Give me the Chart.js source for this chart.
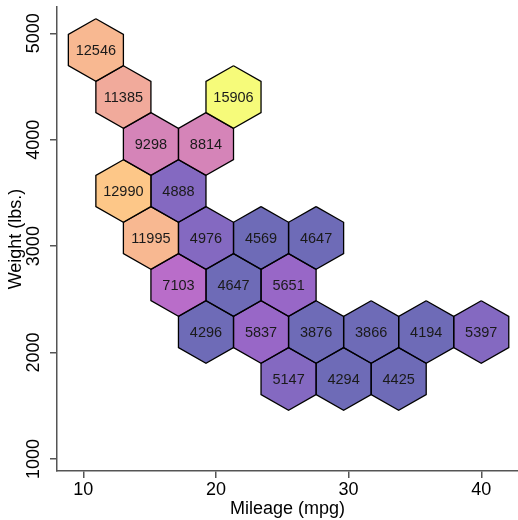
<!DOCTYPE html>
<html>
<head>
<meta charset="utf-8">
<script src="https://cdn.jsdelivr.net/npm/chart.js@4/dist/chart.umd.min.js"></script>
<style>
  html, body { margin: 0; padding: 0; background: #fff; }
  #wrap { width: 518px; height: 520px; }
</style>
</head>
<body>
<div id="wrap"><canvas id="chart" width="518" height="520"></canvas></div>
<script>
// hexbin cells: centre mileage, centre weight, value shown in the cell
const hexMpg = [10.95, 13.025, 21.325, 15.1, 19.25, 13.025, 17.175, 15.1, 19.25, 23.4, 27.55,
  17.175, 21.325, 25.475, 19.25, 23.4, 27.55, 31.7, 35.85, 40.0, 25.475, 29.625, 33.775];
const hexWeight = [4843, 4401, 4401, 3960, 3960, 3518, 3518, 3077, 3077, 3077, 3077,
  2635, 2635, 2635, 2193, 2193, 2193, 2193, 2193, 2193, 1752, 1752, 1752];
const hexValue = [12546, 11385, 15906, 9298, 8814, 12990, 4888, 11995, 4976, 4569, 4647,
  7103, 4647, 5651, 4296, 5837, 3876, 3866, 4194, 5397, 5147, 4294, 4425];

const xTicks = [10, 20, 30, 40];
const yTicks = [1000, 2000, 3000, 4000, 5000];

// bin size (data units)
const halfW = 2.075;
const radius = 294;

const FONT = "'Liberation Sans', Arial, Helvetica, sans-serif";

// plasma colour map, split into 15 discrete steps
const plasma = ['#0d0887', '#41049d', '#6a00a8', '#8f0da4', '#b12a90', '#cc4778',
  '#e16462', '#f2844b', '#fca636', '#fcce25', '#f0f921'];
const nColors = 15;

function hexToRgb(h) {
  return [parseInt(h.slice(1, 3), 16), parseInt(h.slice(3, 5), 16), parseInt(h.slice(5, 7), 16)];
}

function plasmaColor(t, alpha) {
  t = Math.max(0, Math.min(1, t));
  let pos = t * (plasma.length - 1);
  let i = Math.min(Math.floor(pos), plasma.length - 2);
  let f = pos - i;
  let a = hexToRgb(plasma[i]), b = hexToRgb(plasma[i + 1]);
  let c = a.map((v, k) => Math.round(v + (b[k] - v) * f));
  return 'rgba(' + c[0] + ',' + c[1] + ',' + c[2] + ',' + alpha + ')';
}

const vMin = Math.min(...hexValue);
const vMax = Math.max(...hexValue);

function cellColor(v) {
  let bin = Math.min(Math.floor((v - vMin) / (vMax - vMin) * nColors), nColors - 1);
  return plasmaColor(bin / (nColors - 1), 0.6);
}

let datasets = hexMpg.map((cx, i) => {
  let cy = hexWeight[i];
  let pts = [
    {x: cx, y: cy + radius},
    {x: cx + halfW, y: cy + radius / 2},
    {x: cx + halfW, y: cy - radius / 2},
    {x: cx, y: cy - radius},
    {x: cx - halfW, y: cy - radius / 2},
    {x: cx - halfW, y: cy + radius / 2},
    {x: cx, y: cy + radius}
  ];
  return {
    data: pts,
    showLine: true,
    fill: 'shape',
    backgroundColor: cellColor(hexValue[i]),
    borderColor: '#000',
    borderWidth: 1.3,
    borderJoinStyle: 'miter',
    pointRadius: 0,
    pointHoverRadius: 0,
    tension: 0
  };
});

const cellLabels = {
  id: 'cellLabels',
  afterDatasetsDraw(chart) {
    const ctx = chart.ctx;
    const xs = chart.scales.x, ys = chart.scales.y;
    ctx.save();
    ctx.font = '14.5px ' + FONT;
    ctx.fillStyle = '#1a1a1a';
    ctx.textAlign = 'center';
    ctx.textBaseline = 'middle';
    hexValue.forEach((v, i) => {
      ctx.fillText(String(v), xs.getPixelForValue(hexMpg[i]), ys.getPixelForValue(hexWeight[i]) + 1);
    });
    ctx.restore();
  }
};

new Chart(document.getElementById('chart'), {
  type: 'scatter',
  data: { datasets: datasets },
  options: {
    responsive: false,
    animation: false,
    events: [],
    layout: { padding: { top: 7, right: 0, left: 0, bottom: 0 } },
    plugins: {
      legend: { display: false },
      tooltip: { enabled: false }
    },
    scales: {
      x: {
        type: 'linear',
        min: 8.02,
        max: 42.77,
        afterBuildTicks: s => { s.ticks = xTicks.map(v => ({value: v})); },
        afterFit: s => { s.height = 49; },
        border: { display: true, color: '#555', width: 1.5 },
        grid: { display: true, drawOnChartArea: false, drawTicks: true, tickLength: 7, color: '#555', lineWidth: 1.5 },
        ticks: { color: '#000', font: { family: FONT, size: 18 }, padding: 1, maxRotation: 0,
          callback: v => String(v) },
        title: { display: true, text: 'Mileage (mpg)', color: '#000', font: { family: FONT, size: 18 }, padding: { top: 0, bottom: 0 } }
      },
      y: {
        type: 'linear',
        min: 887,
        max: 5247,
        afterBuildTicks: s => { s.ticks = yTicks.map(v => ({value: v})); },
        afterFit: s => { s.width = 57; },
        border: { display: true, color: '#555', width: 1.5 },
        grid: { display: true, drawOnChartArea: false, drawTicks: true, tickLength: 7, color: '#555', lineWidth: 1.5 },
        ticks: { color: '#000', font: { family: FONT, size: 18 }, padding: -4, minRotation: 90, maxRotation: 90,
          crossAlign: 'center', callback: v => String(v) },
        title: { display: true, text: 'Weight (lbs.)', color: '#000', font: { family: FONT, size: 18 }, padding: { top: 5, bottom: 0 } }
      }
    }
  },
  plugins: [cellLabels]
});
</script>
</body>
</html>
